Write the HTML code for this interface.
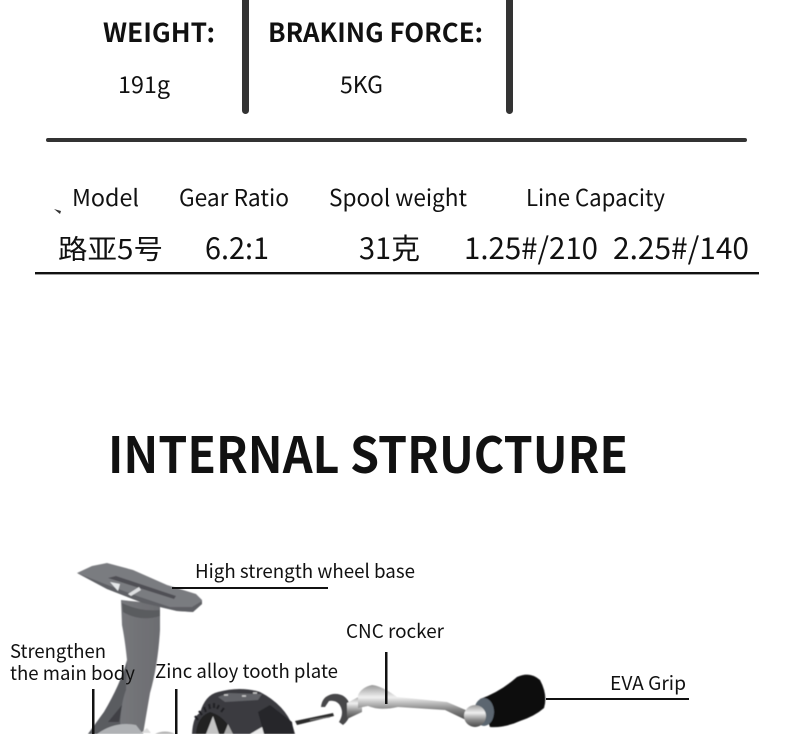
<!DOCTYPE html>
<html>
<head>
<meta charset="utf-8">
<style>
html,body{margin:0;padding:0;background:#fff;}
svg{display:block;}
text{font-family:"Noto Sans CJK SC","Liberation Sans",sans-serif;fill:#111;}
.b{font-weight:700;}
</style>
</head>
<body>
<svg width="790" height="734" viewBox="0 0 790 734" xmlns="http://www.w3.org/2000/svg">
<defs>
<linearGradient id="stem" x1="0" x2="1" y1="0" y2="0"><stop offset="0" stop-color="#66686c"/><stop offset=".4" stop-color="#77787c"/><stop offset="1" stop-color="#6c6d71"/></linearGradient>
<linearGradient id="metal" x1="0" x2="0" y1="0" y2="1"><stop offset="0" stop-color="#9a9a9a"/><stop offset=".35" stop-color="#f0f0f0"/><stop offset=".7" stop-color="#858585"/><stop offset="1" stop-color="#4a4a4a"/></linearGradient>
<filter id="soft" x="-5%" y="-5%" width="110%" height="110%"><feGaussianBlur stdDeviation="0.5"/></filter>
</defs>
<rect width="790" height="734" fill="#fff"/>

<!-- top specs -->
<text class="b" x="103" y="42" font-size="26" textLength="112" lengthAdjust="spacingAndGlyphs">WEIGHT:</text>
<text class="b" x="268" y="42" font-size="26" textLength="215" lengthAdjust="spacingAndGlyphs">BRAKING FORCE:</text>
<text x="118" y="93" font-size="23" textLength="52" lengthAdjust="spacingAndGlyphs">191g</text>
<text x="340" y="93" font-size="23" textLength="43" lengthAdjust="spacingAndGlyphs">5KG</text>
<line x1="245.5" y1="-5" x2="245.5" y2="110.5" stroke="#333" stroke-width="7" stroke-linecap="round"/>
<line x1="509.5" y1="-5" x2="509.5" y2="110.5" stroke="#333" stroke-width="7" stroke-linecap="round"/>
<line x1="48" y1="140" x2="745" y2="140" stroke="#333" stroke-width="4" stroke-linecap="round"/>

<!-- table -->
<path d="M54 209L61 211L60 214Z" fill="#333"/>
<text x="72" y="206" font-size="23" textLength="67" lengthAdjust="spacingAndGlyphs">Model</text>
<text x="179" y="206" font-size="23" textLength="110" lengthAdjust="spacingAndGlyphs">Gear Ratio</text>
<text x="329" y="206" font-size="23" textLength="138" lengthAdjust="spacingAndGlyphs">Spool weight</text>
<text x="526" y="206" font-size="23" textLength="139" lengthAdjust="spacingAndGlyphs">Line Capacity</text>
<text x="58" y="259" font-size="27" textLength="105" lengthAdjust="spacingAndGlyphs">路亚5号</text>
<text x="205" y="259" font-size="30" textLength="64" lengthAdjust="spacingAndGlyphs">6.2:1</text>
<text x="359" y="259" font-size="29" textLength="61" lengthAdjust="spacingAndGlyphs">31克</text>
<text x="464" y="259" font-size="30" textLength="134" lengthAdjust="spacingAndGlyphs">1.25#/210</text>
<text x="613" y="259" font-size="30" textLength="136" lengthAdjust="spacingAndGlyphs">2.25#/140</text>
<rect x="35" y="272" width="724" height="2.4" fill="#111"/>

<!-- heading -->
<text class="b" x="108" y="473" font-size="50" textLength="520" lengthAdjust="spacingAndGlyphs" fill="#0a0a0a">INTERNAL STRUCTURE</text>

<g filter="url(#soft)">
<!-- body stem -->
<path d="M121 600L160 604L160 630Q158 665 150 693L143 734L88 734L104 712Q120 685 127 660Q125 640 122 625Z" fill="url(#stem)"/>
<path d="M127 662Q120 685 104 712L88 734L120 734Q120 705 126 690Z" fill="#5a5c60"/>
<path d="M108 722L122 705L119 722Z" fill="#3f4044"/>
<path d="M97 734Q115 721 136 725L143 734Z" fill="#b0b2b5"/>
<path d="M141 733L147 728L151 733Z" fill="#ddd"/>
<path d="M155 734Q165 729 175 734Z" fill="#b5b5b5"/>
<!-- wheel base -->
<path d="M77 573L92 566L107 563L133 570L167 585L196 594L202 600L202 604L193 612L177 611L143 603L107 589Z" fill="#7a7c80"/>
<path d="M77 573L107 589L143 603L177 611L193 612L202 604L202 601L192 607L170 607L140 597L105 584Z" fill="#5f6165"/>
<path d="M108 578L116 576L176 596L174 599Z" fill="#4f5054"/>
<path d="M110 582L120 584L118 591Z" fill="#e6e8ea"/>
<path d="M128 594L139 587L141 590L131 596Z" fill="#dfe0e2"/>
<path d="M122 603Q140 612 160 610L160 616Q140 622 123 612Z" fill="#5a5b5f"/>

<!-- gear / rotor -->
<path d="M192 734Q193 716 200 713Q205 695 218 692Q240 686 260 692Q285 705 293 727L295 734Z" fill="#3a3b3f"/>
<g stroke="#232325" stroke-width="2.2" fill="none">
<path d="M195 716l3 4M199 711l3 4M204 707l2 5M209 704l1 5M214 703l0 5M219 705l-2 4M224 708l-3 4"/>
</g>
<path d="M196 734Q197 717 210 712Q225 716 233 734Z" fill="#202022"/>
<path d="M206 734L213 716L219 734Z" fill="#c4c4c4"/>
<path d="M224 734L228 724L233 734Z" fill="#aaa"/>
<path d="M250 734L262 727L268 734Z" fill="#e8e8e8"/>
<path d="M218 697L228 693L262 694L258 700L225 702Z" fill="#626368"/>
<path d="M224 695h4M242 696h4M253 693h4" stroke="#ccc" stroke-width="1.5"/>
<path d="M258 712L270 705L292 722L294 734L264 734Z" fill="#26262a"/>

<!-- crank -->
<path d="M295 721L333 713L334 716L297 725Z" fill="#2b2b2b"/>
<path d="M310 720L330 717" stroke="#777" stroke-width="1"/>
<path d="M321 707Q322 696 333 694Q346 693 350 705Q352 718 343 725L339 722Q345 712 339 704Q335 700 329 701L325 707Z" fill="#47474a"/>
<path d="M347 703L362 695L362 712L347 719Z" fill="url(#metal)"/>
<path d="M358 695Q362 687 372 685Q382 686 397 697L447 702L468 711L466 720L445 710L398 707Q380 711 368 706L358 708Z" fill="url(#metal)"/>
<path d="M480 699Q500 692 517 677Q530 671 540 680Q548 695 544 708Q535 716 520 721Q505 728 490 727Z" fill="#0b0b0c"/>
<ellipse cx="484" cy="712" rx="10" ry="14" fill="#5b6670"/>
<circle cx="475" cy="716" r="11" fill="url(#metal)"/>
</g>

<!-- callouts -->
<rect x="172" y="587" width="156" height="2" fill="#111"/>
<rect x="385" y="652" width="2.5" height="52" fill="#111"/>
<rect x="546" y="698" width="143" height="2" fill="#111"/>
<rect x="92" y="689" width="2.5" height="45" fill="#111"/>
<rect x="175" y="689" width="2.5" height="45" fill="#111"/>

<text x="195" y="578" font-size="19" textLength="220" lengthAdjust="spacingAndGlyphs">High strength wheel base</text>
<text x="346" y="638" font-size="19" textLength="98" lengthAdjust="spacingAndGlyphs">CNC rocker</text>
<text x="610" y="690" font-size="19" textLength="76" lengthAdjust="spacingAndGlyphs">EVA Grip</text>
<text x="10" y="658" font-size="19" textLength="96" lengthAdjust="spacingAndGlyphs">Strengthen</text>
<text x="10" y="680" font-size="19" textLength="125" lengthAdjust="spacingAndGlyphs">the main body</text>
<text x="155" y="678" font-size="19" textLength="183" lengthAdjust="spacingAndGlyphs">Zinc alloy tooth plate</text>
</svg>
</body>
</html>
